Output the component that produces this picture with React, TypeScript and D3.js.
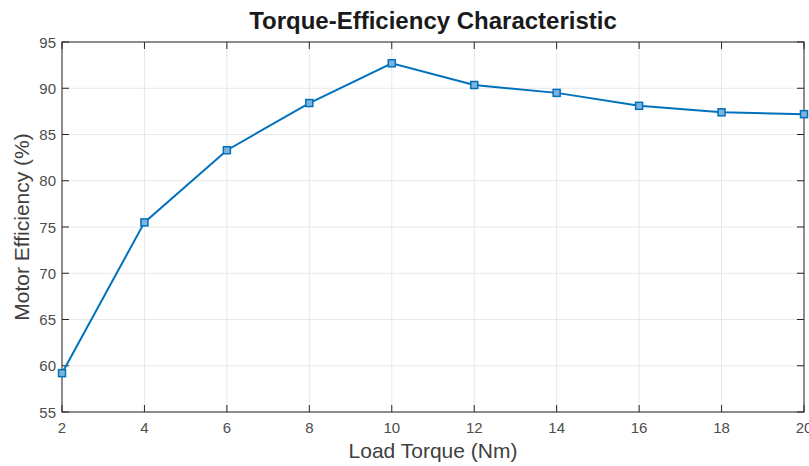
import React from "react";
import * as d3 from "d3";

const torque = [2, 4, 6, 8, 10, 12, 14, 16, 18, 20];
const efficiency = [59.2, 75.5, 83.3, 88.4, 92.7, 90.35, 89.5, 88.1, 87.4, 87.2];
const xTicks = [2, 4, 6, 8, 10, 12, 14, 16, 18, 20];
const yTicks = [55, 60, 65, 70, 75, 80, 85, 90, 95];

const W = 809;
const H = 466;
const M = { left: 62, right: 804, top: 42, bottom: 412 };
const FONT = "'Liberation Sans', Arial, Helvetica, sans-serif";
const BLUE = "#0072BD";

export default function App() {
  const x = d3.scaleLinear().domain([2, 20]).range([M.left, M.right]);
  const y = d3.scaleLinear().domain([55, 95]).range([M.bottom, M.top]);
  const line = d3
    .line<number>()
    .x((_, i) => x(torque[i]))
    .y((d) => y(d));
  const tl = 7;
  const axisCol = "#262626";
  const labelCol = "#4d4d4d";
  return (
    <svg
      width={W}
      height={H}
      style={{ position: "absolute", left: 0, top: 0, background: "#fff" }}
      fontFamily={FONT}
    >
      {/* grid */}
      {xTicks.map((t) => (
        <line key={"gx" + t} x1={x(t)} x2={x(t)} y1={M.top} y2={M.bottom} stroke="#e8e8e8" strokeWidth={1} />
      ))}
      {yTicks.map((t) => (
        <line key={"gy" + t} x1={M.left} x2={M.right} y1={y(t)} y2={y(t)} stroke="#e8e8e8" strokeWidth={1} />
      ))}
      {/* ticks */}
      {xTicks.map((t) => (
        <g key={"tx" + t}>
          <line x1={x(t)} x2={x(t)} y1={M.bottom} y2={M.bottom - tl} stroke={axisCol} />
          <line x1={x(t)} x2={x(t)} y1={M.top} y2={M.top + tl} stroke={axisCol} />
          <text x={x(t)} y={433} textAnchor="middle" fontSize={15} fill={labelCol}>
            {t}
          </text>
        </g>
      ))}
      {yTicks.map((t) => (
        <g key={"ty" + t}>
          <line x1={M.left} x2={M.left + tl} y1={y(t)} y2={y(t)} stroke={axisCol} />
          <line x1={M.right} x2={M.right - tl} y1={y(t)} y2={y(t)} stroke={axisCol} />
          <text x={56} y={y(t) + 5.5} textAnchor="end" fontSize={15} fill={labelCol}>
            {t}
          </text>
        </g>
      ))}
      {/* box */}
      <rect
        x={M.left}
        y={M.top}
        width={M.right - M.left}
        height={M.bottom - M.top}
        fill="none"
        stroke={axisCol}
        strokeWidth={1}
      />
      {/* data line */}
      <path d={line(efficiency) || ""} fill="none" stroke={BLUE} strokeWidth={2} />
      {efficiency.map((v, i) => (
        <g key={"m" + i}>
          <rect
            x={x(torque[i]) - 3.5}
            y={y(v) - 3.5}
            width={7}
            height={7}
            fill="#7fb3dc"
            stroke={BLUE}
            strokeWidth={1.5}
          />
        </g>
      ))}
      {/* title */}
      <text x={(M.left + M.right) / 2} y={29} textAnchor="middle" fontSize={24} fontWeight="bold" fill="#1a1a1a">
        Torque-Efficiency Characteristic
      </text>
      <text x={(M.left + M.right) / 2} y={458} textAnchor="middle" fontSize={21} fill="#404040">
        Load Torque (Nm)
      </text>
      <text
        transform={`translate(29, ${(M.top + M.bottom) / 2}) rotate(-90)`}
        textAnchor="middle"
        fontSize={21}
        fill="#404040"
      >
        Motor Efficiency (%)
      </text>
    </svg>
  );
}
